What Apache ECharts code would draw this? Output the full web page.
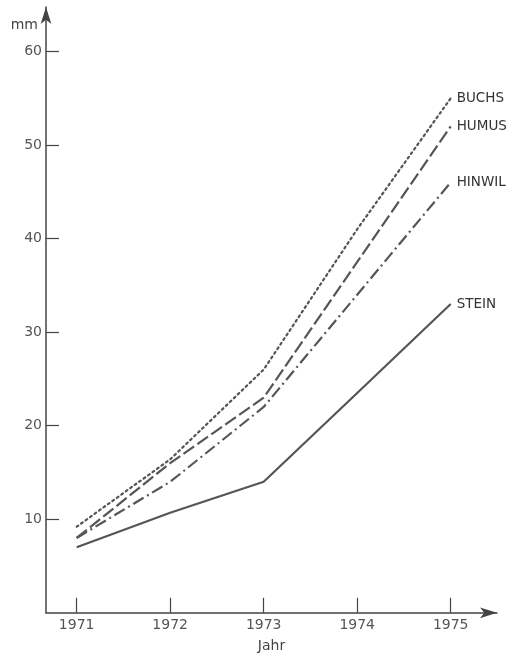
<!DOCTYPE html>
<html>
<head>
<meta charset="utf-8">
<script src="https://cdn.jsdelivr.net/npm/echarts@6/dist/echarts.min.js"></script>
<style>html,body{margin:0;padding:0;background:#fff;}#c{width:507px;height:655px;}</style>
</head>
<body>
<div id="c"></div>
<script>
const years = [1971, 1972, 1973, 1974, 1975];
const yTicks = [10, 20, 30, 40, 50, 60];
const seriesNames = ['BUCHS', 'HUMUS', 'HINWIL', 'STEIN'];
const buchs = [9.2, 16.4, 26, 41, 55];
const humus = [8, 16, 23, 37.5, 52];
const hinwil = [8, 14, 22, 34, 46];
const stein = [7, 10.7, 14, 23.5, 33];

const values = [buchs, humus, hinwil, stein];
const dashTypes = [[2, 3.5], [13, 4], [12, 4, 2, 4], 'solid'];
const lineColor = '#555';
const axisColor = '#444';
const font = 'DejaVu Sans, sans-serif';

const chart = echarts.init(document.getElementById('c'), null, {renderer: 'canvas'});
chart.setOption({
  animation: false,
  backgroundColor: '#fff',
  grid: {left: 46, right: 10, top: 7, bottom: 42.2, containLabel: false, outerBoundsMode: 'none'},
  xAxis: {
    type: 'value',
    min: 1970.672,
    max: 1975.495,
    name: 'Jahr',
    nameLocation: 'middle',
    nameGap: 27,
    nameTextStyle: {fontSize: 14, color: '#444', fontFamily: font},
    axisLine: {show: true, onZero: false, symbol: ['none', 'arrow'], symbolSize: [8, 17], lineStyle: {color: axisColor, width: 1.5}},
    axisTick: {show: true, inside: true, length: 15, customValues: years, lineStyle: {color: axisColor, width: 1.2}},
    axisLabel: {customValues: years, formatter: v => String(v), fontSize: 14, color: '#555', fontFamily: font, margin: 6},
    splitLine: {show: false}
  },
  yAxis: {
    type: 'value',
    min: 0,
    max: 64.75,
    name: 'mm',
    nameLocation: 'end',
    nameGap: -18,
    nameTextStyle: {fontSize: 14, color: '#444', fontFamily: font, align: 'right', verticalAlign: 'middle', padding: [0, 8, 0, 0]},
    axisLine: {show: true, onZero: false, symbol: ['none', 'arrow'], symbolSize: [8, 17], lineStyle: {color: axisColor, width: 1.5}},
    axisTick: {show: true, inside: true, length: 13, customValues: yTicks, lineStyle: {color: axisColor, width: 1.2}},
    axisLabel: {customValues: yTicks, fontSize: 14, color: '#555', fontFamily: font, margin: 4},
    splitLine: {show: false}
  },
  series: seriesNames.map((name, i) => ({
    name: name,
    type: 'line',
    data: years.map((y, j) => [y, values[i][j]]),
    showSymbol: false,
    symbol: 'none',
    lineStyle: {color: lineColor, width: 2.2, type: dashTypes[i], cap: i === 0 ? 'round' : 'butt'},
    endLabel: {show: true, formatter: '{a}', distance: 6, fontSize: 13.5, color: '#333', fontFamily: font},
    z: 3
  }))
});
</script>
</body>
</html>
